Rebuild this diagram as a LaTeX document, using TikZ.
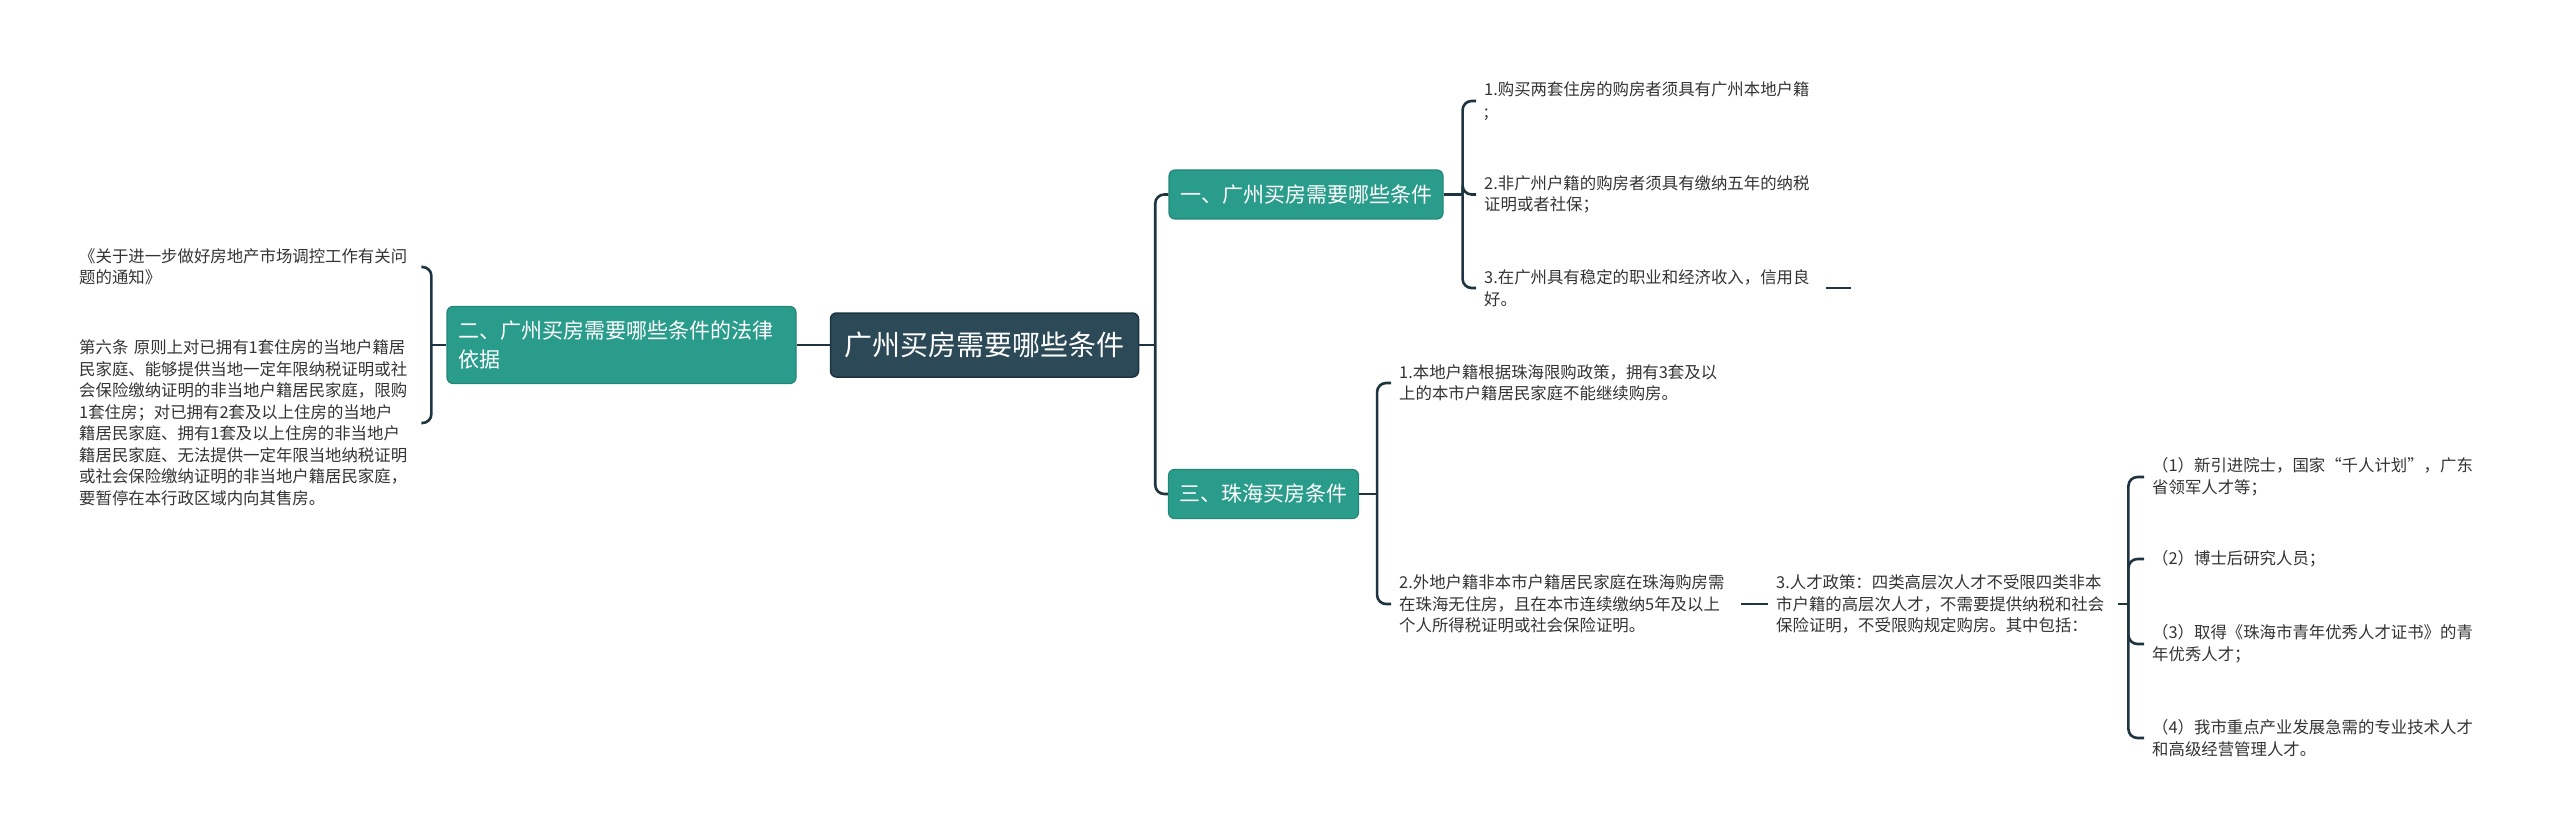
\documentclass[tikz,border=0pt]{standalone}
\usepackage{fontspec}
\setmainfont{Noto Sans CJK SC}

\definecolor{rootfill}{HTML}{2B4956}
\definecolor{rootline}{HTML}{1C3440}
\definecolor{tealfill}{HTML}{2A9C8B}
\definecolor{tealline}{HTML}{238678}
\definecolor{linkcol}{HTML}{1E3541}
\definecolor{leafcol}{HTML}{333333}

\tikzset{
  rootbox/.style={draw=rootline, line width=1.5pt, fill=rootfill, rounded corners=6pt,
    text=white, font=\fontsize{28}{34}\selectfont, inner xsep=14pt, minimum height=64pt},
  topicbox/.style={draw=tealline, line width=1.2pt, fill=tealfill, rounded corners=6pt,
    text=white, font=\fontsize{21}{29}\selectfont, inner xsep=11pt, minimum height=49pt},
  leaf/.style={anchor=west, text=leafcol, font=\fontsize{16.4}{21.5}\selectfont,
    text width=334pt, align=left, inner xsep=8pt, inner ysep=2pt},
  link/.style={draw=linkcol, line width=2.6pt, rounded corners=9pt},
}

\begin{document}
\begin{tikzpicture}[x=1pt, y=-1pt]
            \useasboundingbox (0,0) rectangle (2560,837);
            % 中心
            \node[rootbox](root)at(984.5,345){广州买房需要哪些条件};
            % 左侧：法律依据
            \node[topicbox, text width=327pt, align=left, minimum height=77pt](law)at(621.5,345){二、广州买房需要哪些条件的法律\\依据};
            \node[leaf](law1)at(71,267){《关于进一步做好房地产市场调控工作有关问\\题的通知》};
            \node[leaf](law2)at(71,423){第六条 原则上对已拥有1套住房的当地户籍居\\民家庭、能够提供当地一定年限纳税证明或社\\会保险缴纳证明的非当地户籍居民家庭，限购\\1套住房；对已拥有2套及以上住房的当地户\\籍居民家庭、拥有1套及以上住房的非当地户\\籍居民家庭、无法提供一定年限当地纳税证明\\或社会保险缴纳证明的非当地户籍居民家庭，\\要暂停在本行政区域内向其售房。};
            % 右侧：广州
            \node[topicbox](gz)at(1306,194.5){一、广州买房需要哪些条件};
            \node[leaf](gz1)at(1476,101){1.购买两套住房的购房者须具有广州本地户籍\\;};
            \node[leaf](gz2)at(1476,194.5){2.非广州户籍的购房者须具有缴纳五年的纳税\\证明或者社保；};
            \node[leaf](gz3)at(1476,288){3.在广州具有稳定的职业和经济收入，信用良\\好。};
            \coordinate(gz3end)at(1851,288);
            % 右侧：珠海
            \node[topicbox](zh)at(1263.5,494){三、珠海买房条件};
            \node[leaf](zh1)at(1391,383){1.本地户籍根据珠海限购政策，拥有3套及以\\上的本市户籍居民家庭不能继续购房。};
            \node[leaf](zh2)at(1391,604){2.外地户籍非本市户籍居民家庭在珠海购房需\\在珠海无住房，且在本市连续缴纳5年及以上\\个人所得税证明或社会保险证明。};
            \node[leaf](zh3)at(1768,604){3.人才政策：四类高层次人才不受限四类非本\\市户籍的高层次人才，不需要提供纳税和社会\\保险证明，不受限购规定购房。其中包括：};
            % 人才
            \node[leaf](rc1)at(2144,477){（1）新引进院士，国家“千人计划”，广东\\省领军人才等；};
            \node[leaf](rc2)at(2144,559){（2）博士后研究人员；};
            \node[leaf](rc3)at(2144,644){（3）取得《珠海市青年优秀人才证书》的青\\年优秀人才；};
            \node[leaf](rc4)at(2144,738){（4）我市重点产业发展急需的专业技术人才\\和高级经营管理人才。};
            % 连线
            \path[link](law.east)--(root.west);
            \path[link](law.west)--++(-15,0)coordinate(lawj);
            \foreach \n in {law1,law2} \path[link](lawj)|-(\n.east);
            \path[link](root.east)--++(16,0)coordinate(rootj);
            \foreach \n in {gz,zh} \path[link](rootj)|-(\n.west);
            \path[link](gz.east)--++(19,0)coordinate(gzj);
            \foreach \n in {gz1,gz2,gz3} \path[link](gzj)|-(\n.west);
            \path[link](gz3.east)--(gz3end);
            \path[link](zh.east)--++(18,0)coordinate(zhj);
            \foreach \n in {zh1,zh2} \path[link](zhj)|-(\n.west);
            \path[link](zh2.east)--(zh3.west);
            \path[link](zh3.east)--++(10,0)coordinate(zh3j);
            \foreach \n in {rc1,rc2,rc3,rc4} \path[link](zh3j)|-(\n.west);
        \end{tikzpicture}
\end{document}
